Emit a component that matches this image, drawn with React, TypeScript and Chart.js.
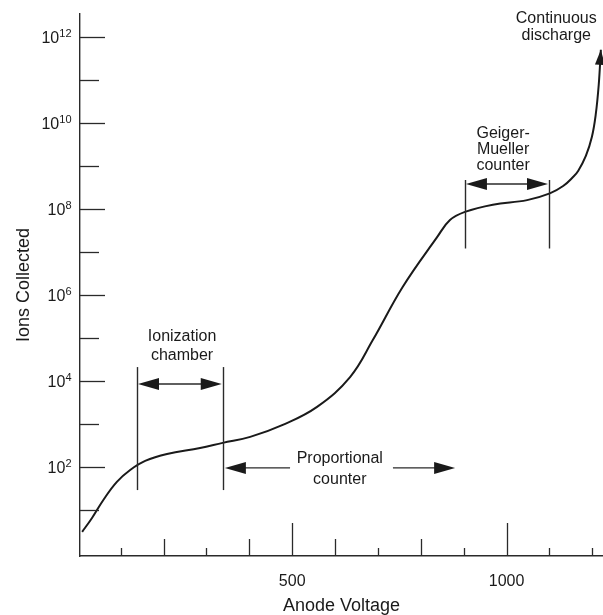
import React, { useEffect, useRef } from "react";
import { Chart, registerables } from "chart.js";

Chart.register(...registerables);

// ---- data ----
const voltage = [10, 33, 61, 91, 122, 157, 208, 285, 338, 402, 478, 558, 635, 688, 758, 838, 868, 903, 968, 1048, 1101, 1132, 1155, 1167, 1185, 1199, 1208, 1215, 1220];
const ions = [3.1, 6.5, 18, 45, 85, 138, 200, 275, 363, 500, 950, 2500, 12300, 89000, 1.55e6, 2.2e7, 5.5e7, 8.5e7, 1.25e8, 1.6e8, 2.3e8, 3.4e8, 5.5e8, 7.6e8, 1.7e9, 4.7e9, 1.55e10, 7.6e10, 5e11];

const xTickValues = [100, 200, 300, 400, 500, 600, 700, 800, 900, 1000, 1100, 1200];
const xLabeledTicks = [500, 1000];
const xMediumTicks = [200, 400, 600, 800];
const yMajorExponents = [2, 4, 6, 8, 10, 12];
const yMinorExponents = [1, 3, 5, 7, 9, 11];

// region markers (data coordinates)
const ionChamberBounds = [138, 338];
const ionChamberSpan = [29, 2.1e4];
const ionChamberArrowY = 8500;
const gmBounds = [903, 1099];
const gmSpan = [1.2e7, 4.7e8];
const gmArrowY = 3.8e8;
const proportionalArrows = [
  [495, 343],
  [735, 880],
];
const proportionalArrowY = 95;

const textNotes = [
  { lines: ["Ionization", "chamber"], x: 243, y: [1.05e5, 3.8e4] },
  { lines: ["Proportional", "counter"], x: 611, y: [155, 52] },
  { lines: ["Geiger-", "Mueller", "counter"], x: 992, y: [5.6e9, 2.4e9, 1.0e9] },
  { lines: ["Continuous", "discharge"], x: 1116, y: [2.6e12, 1.05e12] },
];

const FONT = "'Liberation Sans', Arial, Helvetica, sans-serif";
const INK = "#1a1a1a";

function arrowHead(ctx: CanvasRenderingContext2D, tx: number, ty: number, fx: number, fy: number, len: number, half: number) {
  const a = Math.atan2(ty - fy, tx - fx);
  const bx = tx - len * Math.cos(a);
  const by = ty - len * Math.sin(a);
  const nx = -Math.sin(a) * half;
  const ny = Math.cos(a) * half;
  ctx.beginPath();
  ctx.moveTo(tx, ty);
  ctx.lineTo(bx + nx, by + ny);
  ctx.lineTo(bx - nx, by - ny);
  ctx.closePath();
  ctx.fill();
}

function seg(ctx: CanvasRenderingContext2D, x1: number, y1: number, x2: number, y2: number) {
  ctx.beginPath();
  ctx.moveTo(x1, y1);
  ctx.lineTo(x2, y2);
  ctx.stroke();
}

const overlayPlugin = {
  id: "overlay",
  afterDraw(chart: any) {
    const { ctx, chartArea } = chart;
    const xs = chart.scales.x;
    const ys = chart.scales.y;
    ctx.save();
    ctx.strokeStyle = "#2a2a2a";
    ctx.fillStyle = INK;
    ctx.lineWidth = 1.3;

    // inward y ticks
    for (const e of yMajorExponents) {
      const py = Math.round(ys.getPixelForValue(Math.pow(10, e))) + 0.5;
      seg(ctx, chartArea.left, py, chartArea.left + 25, py);
    }
    for (const e of yMinorExponents) {
      const py = Math.round(ys.getPixelForValue(Math.pow(10, e))) + 0.5;
      seg(ctx, chartArea.left, py, chartArea.left + 19, py);
    }
    // inward x ticks
    for (const v of xTickValues) {
      const px = Math.round(xs.getPixelForValue(v)) + 0.5;
      const len = xLabeledTicks.includes(v) ? 33 : xMediumTicks.includes(v) ? 17 : 8;
      seg(ctx, px, chartArea.bottom, px, chartArea.bottom - len);
    }

    // y tick labels 10^n
    ctx.textAlign = "left";
    ctx.textBaseline = "alphabetic";
    const right = chartArea.left - 8.5;
    for (const e of yMajorExponents) {
      const py = ys.getPixelForValue(Math.pow(10, e));
      const exp = String(e);
      ctx.font = `11px ${FONT}`;
      const ew = ctx.measureText(exp).width;
      ctx.font = `16px ${FONT}`;
      const bw = ctx.measureText("10").width;
      ctx.fillText("10", right - ew - bw, py + 6);
      ctx.font = `11px ${FONT}`;
      ctx.fillText(exp, right - ew, py);
    }

    // region lines
    ctx.lineWidth = 1.4;
    for (const [bounds, span] of [
      [ionChamberBounds, ionChamberSpan],
      [gmBounds, gmSpan],
    ] as any) {
      for (const b of bounds) {
        const px = Math.round(xs.getPixelForValue(b)) + 0.5;
        seg(ctx, px, ys.getPixelForValue(span[1]), px, ys.getPixelForValue(span[0]));
      }
    }
    // double arrows
    for (const [bounds, ay] of [
      [ionChamberBounds, ionChamberArrowY],
      [gmBounds, gmArrowY],
    ] as any) {
      const x1 = xs.getPixelForValue(bounds[0]) + 1;
      const x2 = xs.getPixelForValue(bounds[1]) - 1;
      const py = ys.getPixelForValue(ay);
      seg(ctx, x1 + 10, py, x2 - 10, py);
      arrowHead(ctx, x1, py, x2, py, 21, 6);
      arrowHead(ctx, x2, py, x1, py, 21, 6);
    }
    // proportional single arrows
    for (const [from, to] of proportionalArrows) {
      const fx = xs.getPixelForValue(from);
      const tx = xs.getPixelForValue(to);
      const py = ys.getPixelForValue(proportionalArrowY);
      seg(ctx, fx, py, tx - Math.sign(tx - fx) * 10, py);
      arrowHead(ctx, tx, py, fx, py, 21, 6);
    }

    // end arrowhead on the curve
    const meta = chart.getDatasetMeta(0);
    const pts = meta.data;
    if (pts.length > 1) {
      const a = pts[pts.length - 1];
      const b = pts[pts.length - 2];
      arrowHead(ctx, a.x, a.y, b.x, b.y, 15, 5);
    }

    // notes
    ctx.font = `16px ${FONT}`;
    ctx.textAlign = "center";
    ctx.textBaseline = "middle";
    for (const n of textNotes) {
      const px = xs.getPixelForValue(n.x);
      n.lines.forEach((t, i) => {
        ctx.fillText(t, px, ys.getPixelForValue(n.y[i]));
      });
    }
    ctx.restore();
  },
};

export default function App() {
  const ref = useRef<HTMLCanvasElement | null>(null);

  useEffect(() => {
    if (!ref.current) return;
    const chart = new Chart(ref.current, {
      type: "line",
      data: {
        datasets: [
          {
            data: voltage.map((v, i) => ({ x: v, y: ions[i] })),
            borderColor: INK,
            borderWidth: 2,
            pointRadius: 0,
            tension: 0.4,
            clip: false as any,
            fill: false,
          },
        ],
      },
      options: {
        animation: false,
        responsive: false,
        devicePixelRatio: 1,
        layout: { padding: { top: 14, right: 0, left: 0, bottom: 0 } },
        plugins: { legend: { display: false }, tooltip: { enabled: false } },
        scales: {
          x: {
            type: "linear",
            position: "bottom",
            min: 5,
            max: 1225,
            grid: { display: false, drawTicks: false },
            border: { display: true, color: "#2a2a2a", width: 1.4 },
            afterBuildTicks: (scale: any) => {
              scale.ticks = xTickValues.map((v) => ({ value: v }));
            },
            afterFit: (scale: any) => {
              scale.height = 59;
              scale.paddingLeft = 0;
              scale.paddingRight = 0;
            },
            ticks: {
              autoSkip: false,
              maxRotation: 0,
              padding: 16,
              color: INK,
              font: { family: FONT, size: 16 },
              callback: (v: any) => (xLabeledTicks.includes(Number(v)) ? String(v) : ""),
            },
            title: {
              display: true,
              text: "Anode Voltage",
              color: INK,
              font: { family: FONT, size: 18, lineHeight: 1 },
              padding: { top: 0, bottom: 0 },
            },
          },
          y: {
            type: "logarithmic",
            position: "left",
            min: 0.85,
            max: 3.4e12,
            grid: { display: false, drawTicks: false },
            border: { display: true, color: "#2a2a2a", width: 1.4 },
            ticks: { display: false },
            afterFit: (scale: any) => {
              scale.width = 80;
            },
            title: {
              display: true,
              text: "Ions Collected",
              color: INK,
              font: { family: FONT, size: 18 },
              padding: { top: 13, bottom: 0 },
            },
          },
        },
      },
      plugins: [overlayPlugin],
    } as any);
    return () => chart.destroy();
  }, []);

  return (
    <div style={{ position: "fixed", left: 0, top: 0, width: 603, height: 615, background: "#fff" }}>
      <canvas ref={ref} width={603} height={615} style={{ display: "block" }} />
    </div>
  );
}
